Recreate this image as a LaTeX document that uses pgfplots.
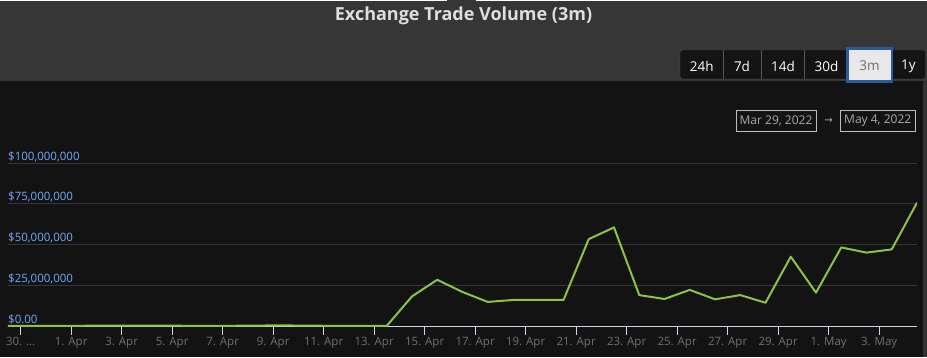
\documentclass[border=0pt]{standalone}
\usepackage{pgfplots}
\pgfplotsset{compat=1.18}
\usepackage{pgfplotstable}
\usepackage{fontspec}
\setmainfont{Open Sans}
\newfontfamily\dejavu{DejaVu Sans}
\definecolor{hdr}{RGB}{54,54,54}
\definecolor{chartbg}{RGB}{19,19,19}
\definecolor{scroll}{RGB}{50,50,50}
\definecolor{titlecol}{RGB}{222,222,222}
\definecolor{btnborder}{RGB}{88,88,88}
\definecolor{btnbg}{RGB}{20,20,20}
\definecolor{selfill}{RGB}{232,232,232}
\definecolor{selborder}{RGB}{40,92,155}
\definecolor{seltext}{RGB}{110,110,110}
\definecolor{datebox}{RGB}{190,190,190}
\definecolor{datetext}{RGB}{170,170,170}
\definecolor{axiscol}{RGB}{204,214,235}
\definecolor{gridcol}{RGB}{55,55,55}
\definecolor{ylab}{RGB}{110,170,255}
\definecolor{xlab}{RGB}{112,112,112}
\definecolor{linecol}{RGB}{140,195,70}

\pgfplotstableread{
n v
0 0.1
1 0.1
2 0.1
3 0.15
4 0.3
5 0.3
6 0.2
7 0.15
8 0.1
9 0.15
10 0.3
11 0.35
12 0.2
13 0.1
14 0.1
15 0.1
16 18.2
17 28.4
18 20.9
19 14.8
20 16.0
21 16.0
22 16.0
23 53.4
24 60.6
25 19.0
26 16.6
27 22.2
28 16.4
29 19.0
30 14.3
31 42.6
32 20.5
33 48.3
34 45.1
35 47.1
36 75.8
}\datatab

\begin{document}
\begin{tikzpicture}
\fill[chartbg] (0pt,0pt) rectangle (927pt,357pt);
\fill[hdr] (0pt,276pt) rectangle (927pt,357pt);
\fill[white] (0pt,355.8pt) rectangle (447pt,357pt);
\fill[white] (476pt,355.8pt) rectangle (927pt,357pt);
\fill[scroll] (922.5pt,0pt) rectangle (927pt,276pt);
\begin{scope}[x=1pt,y=1pt]
\node[font=\bfseries\fontsize{18}{20}\selectfont, text=titlecol] at (463.5,341) {Exchange Trade Volume (3m)};
% range buttons
\draw[btnborder, fill=btnbg, rounded corners=2pt] (680,278) rectangle (925.5,307);
\draw[btnborder] (723.3,278) -- (723.3,307);
\draw[btnborder] (760.7,278) -- (760.7,307);
\draw[btnborder] (804.3,278) -- (804.3,307);
\draw[selborder, fill=selfill, line width=2.5pt] (847.5,275.5) rectangle (892,308.5);
\begin{scope}[every node/.style={font=\fontsize{13.5}{15}\selectfont, text=white, anchor=center}]
\node at (701.7,291) {24h};
\node at (742,291) {7d};
\node at (783,291) {14d};
\node at (826.5,291) {30d};
\node[text=seltext] at (869.5,291) {3m};
\node at (908.5,291) {1y};
\end{scope}
% date range boxes
\draw[datebox] (736.3,225.7) rectangle (815.7,246.7);
\draw[datebox] (840.3,225.7) rectangle (915,246.7);
\node[font=\fontsize{12}{14}\selectfont, text=datetext] at (776,236.2) {Mar 29, 2022};
\node[font=\fontsize{12}{14}\selectfont, text=datetext] at (877.7,236.2) {May 4, 2022};
\node[font=\dejavu\fontsize{10}{12}\selectfont, text=datetext] at (828.5,236.2) {→};
\end{scope}
\begin{axis}[
  at={(8pt,31pt)}, anchor=origin,
  scale only axis, width=909pt, height=162.7pt,
  xmin=0, xmax=36, ymin=0, ymax=100,
  axis x line*=bottom, axis y line*=left,
  x axis line style={draw=axiscol, line width=1pt, -},
  y axis line style={draw=none},
  tick align=outside, major tick length=9pt,
  xtick={0.5,2.5,...,34.5},
  xticklabels={{30. \ldots},{1. Apr},{3. Apr},{5. Apr},{7. Apr},{9. Apr},{11. Apr},{13. Apr},{15. Apr},{17. Apr},{19. Apr},{21. Apr},{23. Apr},{25. Apr},{27. Apr},{29. Apr},{1. May},{3. May}},
  xtick style={draw=axiscol, line width=1pt},
  ytick style={draw=none},
  ytick={0,25,50,75,100},
  yticklabels={{\$0.00},{\$25,000,000},{\$50,000,000},{\$75,000,000},{\$100,000,000}},
  ymajorgrids, major grid style={draw=gridcol, line width=1pt},
  yticklabel style={anchor=base west, inner sep=0pt, xshift=9pt, yshift=3pt, font=\fontsize{11.5}{13}\selectfont, text=ylab},
  xticklabel style={font=\fontsize{11.5}{13}\selectfont, text=xlab, inner sep=2pt},
]
\addplot[linecol, line width=2pt, line join=round] table[x=n,y=v]{\datatab};
\end{axis}
\pgfresetboundingbox
\path (0pt,0pt) rectangle (927pt,357pt);
\end{tikzpicture}
\end{document}
